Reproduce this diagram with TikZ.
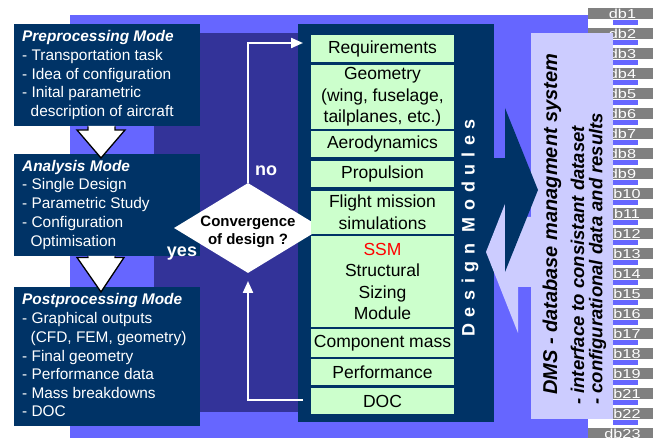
\documentclass[tikz,border=0pt]{standalone}
\usepackage{fontspec}
\setmainfont{Liberation Sans}
\usetikzlibrary{arrows.meta,shapes.geometric}
\definecolor{bgpurple}{HTML}{6666FF}
\definecolor{darkpurple}{HTML}{333399}
\definecolor{navy}{HTML}{003366}
\definecolor{modgreen}{HTML}{CCFFCC}
\definecolor{lavender}{HTML}{CCCCFF}
\definecolor{dbgray}{HTML}{808080}
\definecolor{ssmred}{HTML}{FF0000}
\begin{document}
\begin{tikzpicture}[x=1pt,y=-1pt,
  navybox/.style={fill=navy, draw=none, inner sep=0pt},
  ltxt/.style={text=white, anchor=west, inner sep=0pt, text height=11pt, text depth=3pt, font=\fontsize{15.4}{18}\selectfont},
  ltitle/.style={ltxt, font=\bfseries\itshape\fontsize{15.4}{18}\selectfont},
  modbox/.style={fill=modgreen, draw=none, minimum width=143pt, minimum height=#1, inner sep=0pt, align=center, font=\fontsize{17.5}{21.6}\selectfont},
  dbbox/.style={fill=dbgray, draw=none, minimum width=65pt, minimum height=11.5pt, inner sep=0pt},
  dbtxt/.style={text=white, inner sep=0pt, text height=9.5pt, text depth=0pt, font=\fontsize{13}{13}\selectfont},
  hollow/.style={fill=white},
  hollowline/.style={draw=black, line width=1.3pt, line join=miter},
  wline/.style={draw=white, line width=2.2pt, -{Triangle[length=12pt,width=10pt]}},
  decis/.style={text=white, font=\bfseries\fontsize{18}{18}\selectfont, inner sep=0pt},
  dmstxt/.style={rotate=90, anchor=west, inner sep=0pt, font=\bfseries\itshape\fontsize{18.5}{20}\selectfont}
]
\useasboundingbox (0,0) rectangle (657,438);
% backgrounds
\fill[bgpurple] (70,15) rectangle (588,438);
\fill[darkpurple] (154,33) rectangle (298,412);
% database labels
\foreach \n [count=\i from 0] in {1,2,3,4,5,6,7,8,9,10,11,12,13,14,15,16,17,18,19,21,22,23}{
  \fill[bgpurple] (613,20+20*\i) rectangle (638,25+20*\i);
  \node[dbbox] (db\n) at (620.5,13.5+20*\i) {};
  \node[dbtxt] (dbt\n) at (622.5,13.5+20*\i) {\scalebox{1.25}[1]{db\n}};
}
% left mode boxes
\node[navybox, minimum width=186pt, minimum height=102pt] (pre) at (107,75) {};
\node[navybox, minimum width=186pt, minimum height=102pt] (ana) at (107,205) {};
\node[navybox, minimum width=186pt, minimum height=139pt] (post) at (107,356.5) {};
\node[ltitle] (pre0) at (22,38) {Preprocessing Mode};
\node[ltxt] (pre1) at (22,57) {- Transportation task};
\node[ltxt] (pre2) at (22,76) {- Idea of configuration};
\node[ltxt] (pre3) at (22,94) {- Inital parametric};
\node[ltxt] (pre4) at (30.5,113) {description of aircraft};
\node[ltitle] (ana0) at (22,168) {Analysis Mode};
\node[ltxt] (ana1) at (22,186) {- Single Design};
\node[ltxt] (ana2) at (22,205) {- Parametric Study};
\node[ltxt] (ana3) at (22,224) {- Configuration};
\node[ltxt] (ana4) at (30.5,243) {Optimisation};
\node[ltitle] (post0) at (22,301) {Postprocessing Mode};
\node[ltxt] (post1) at (22,320) {- Graphical outputs};
\node[ltxt] (post2) at (30.5,339) {(CFD, FEM, geometry)};
\node[ltxt] (post3) at (22,358) {- Final geometry};
\node[ltxt] (post4) at (22,376) {- Performance data};
\node[ltxt] (post5) at (22,395) {- Mass breakdowns};
\node[ltxt] (post6) at (22,413) {- DOC};
% design modules frame
\node[navybox, minimum width=196pt, minimum height=398pt] (dm) at (396,223) {};
% decision diamond
\node[diamond, fill=white, draw=none, inner sep=0pt, minimum width=148pt, minimum height=90pt] (conv) at (248,228) {};
\node[align=center, inner sep=0pt, font=\bfseries\fontsize{15}{18}\selectfont] (convtxt) at (248,232) {Convergence\\of design ?};
% modules
\node[modbox=27pt] (req) at (382.5,48.5) {Requirements};
\node[modbox=64pt] (geo) at (382.5,97) {Geometry\\(wing, fuselage,\\tailplanes, etc.)};
\node[modbox=26pt] (aero) at (382.5,144) {Aerodynamics};
\node[modbox=26pt] (prop) at (382.5,174) {Propulsion};
\node[modbox=43pt] (fms) at (382.5,212.5) {Flight mission\\simulations};
\node[modbox=91pt] (ssm) at (382.5,281.5) {\textcolor{ssmred}{SSM}\\Structural\\Sizing\\Module};
\node[modbox=28pt] (cmass) at (382.5,343) {Component mass};
\node[modbox=26pt] (perf) at (382.5,372) {Performance};
\node[modbox=26pt] (doc) at (382.5,401) {DOC};
\node[rotate=90, text=white, inner sep=0pt, font=\bfseries\fontsize{18}{18}\selectfont\addfontfeature{LetterSpace=37}] (dmlabel) at (470,228) {Design Modules};
% exchange arrows
\fill[navy] (494,158) rectangle (505,240);
\node[fill=lavender, draw=none, inner sep=0pt, minimum width=82pt, minimum height=386pt] (dms) at (572,226) {};
\fill[lavender] (531,217) -- (518,217) -- (518,171) -- (486,252) -- (518,333) -- (518,287) -- (531,287) -- cycle;
\fill[navy] (505,108) -- (538,190) -- (505,272) -- cycle;
% DMS text
\node[dmstxt, font=\bfseries\itshape\fontsize{20}{20}\selectfont] (dms1) at (552,395) {DMS - database managment system};
\node[dmstxt] (dms2) at (577.5,405) {- interface to consistant dataset};
\node[dmstxt] (dms3) at (597.5,405) {- configurational data and results};
% hollow flow arrows
\fill[hollow] (88,126) -- (88,130) -- (77,130) -- (101,158) -- (125,130) -- (115,130) -- (115,126) -- cycle;
\draw[hollowline] (88,126.5) -- (88,130) -- (77,130) -- (101,158) -- (125,130) -- (115,130) -- (115,126.5);
\fill[hollow] (88,256) -- (88,257.5) -- (77,257.5) -- (101,292) -- (124,257.5) -- (115,257.5) -- (115,256) -- cycle;
\draw[hollowline] (88,256.5) -- (88,257.5) -- (77,257.5) -- (101,292) -- (124,257.5) -- (115,257.5) -- (115,256.5);
% loop connectors
\coordinate (noend) at (303,43);
\coordinate (docout) at (303,400);
\coordinate (yesin) at (248,281);
\draw[wline] (conv.north) |- (noend);
\draw[wline] (docout) -| (yesin);
\node[decis] (nolbl) at (266,171) {no};
\node[decis] (yeslbl) at (182,254) {yes};
\end{tikzpicture}
\end{document}
